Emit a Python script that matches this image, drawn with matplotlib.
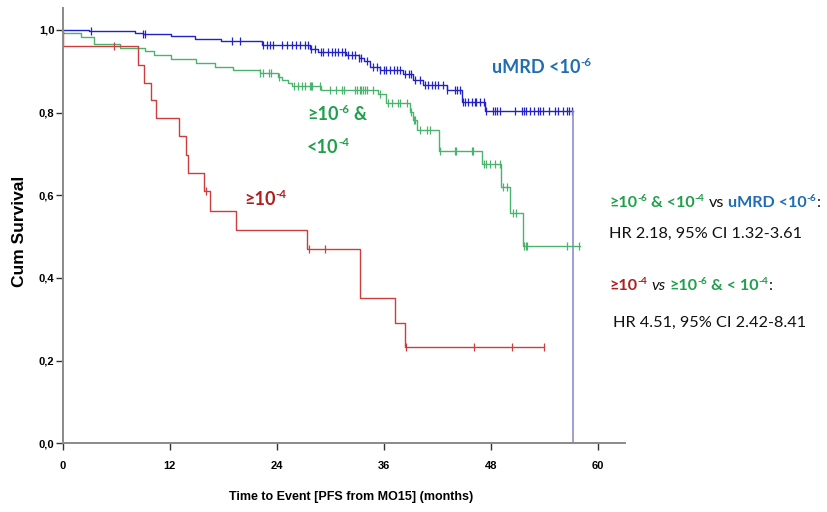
import numpy as np
import matplotlib
matplotlib.use("Agg")
import matplotlib.pyplot as plt

# Kaplan-Meier steps: (time in months, survival after the drop)
blue_times = [0, 2.9, 8.1, 9.0, 12.2, 14.8, 17.8, 22.3, 27.7, 28.6, 31.8, 33.2, 33.8,
              34.5, 35.6, 38.2, 39.3, 40.4, 43.1, 44.8, 47.4, 57.2]
blue_surv = [1.0, 0.997, 0.992, 0.989, 0.985, 0.977, 0.972, 0.963, 0.955, 0.946, 0.940,
             0.932, 0.924, 0.910, 0.902, 0.894, 0.879, 0.867, 0.855, 0.825, 0.805, 0.0]
blue_censor = [3.2, 9.0, 9.2, 19.0, 19.9, 22.5, 22.9, 23.2, 23.6, 24.6, 25.1, 25.7, 26.2,
               26.6, 27.2, 27.5, 27.9, 28.3, 29.0, 29.2, 29.8, 30.2, 30.5, 30.9, 31.3,
               31.7, 32.0, 32.4, 32.8, 33.2, 33.5, 34.1, 34.8, 35.2, 35.6, 36.0, 36.3,
               36.7, 37.1, 37.5, 37.8, 38.4, 38.8, 39.1, 39.5, 40.1, 40.6, 41.0, 41.4,
               41.8, 42.1, 42.7, 43.1, 44.0, 44.2, 44.6, 44.9, 45.1, 45.5, 45.9, 46.2,
               46.4, 46.8, 47.2, 47.5, 48.3, 48.5, 48.7, 49.0, 50.7, 51.5, 51.7, 52.0,
               52.4, 52.8, 53.3, 53.5, 53.9, 54.5, 55.2, 55.6, 56.1, 56.5, 56.8, 57.1]

green_times = [0, 0, 2.1, 3.5, 6.4, 9.2, 10.2, 12.2, 15.0, 17.1, 19.1, 22.1, 24.2, 24.6,
               25.3, 25.7, 29.0, 35.4, 36.3, 39.0, 39.3, 39.7, 42.2, 47.0, 49.1, 50.2, 51.6]
green_surv = [1.0, 0.992, 0.984, 0.965, 0.956, 0.948, 0.940, 0.929, 0.921, 0.911, 0.903,
              0.895, 0.887, 0.879, 0.871, 0.865, 0.855, 0.845, 0.823, 0.802, 0.781, 0.759,
              0.706, 0.675, 0.619, 0.558, 0.478]
green_end = 58.0
green_censor = [22.1, 22.5, 23.1, 23.4, 24.3, 25.9, 26.4, 26.8, 27.2, 27.7, 27.8, 28.0,
                28.9, 30.0, 30.7, 31.3, 31.5, 32.8, 33.0, 33.3, 33.5, 33.7, 33.9, 34.1,
                34.8, 35.6, 36.5, 36.9, 37.6, 37.8, 38.6, 39.1, 39.35, 39.5, 40.1, 40.8,
                41.2, 42.3, 44.0, 44.1, 45.9, 46.0, 47.2, 47.5, 47.9, 48.5, 49.0, 49.4,
                49.8, 50.5, 50.8, 51.7, 52.0, 52.1, 56.6, 57.9]

red_times = [0, 0, 8.45, 9.1, 9.9, 10.5, 13.0, 13.8, 14.1, 15.8, 16.5, 19.4, 27.4, 33.3,
             37.3, 38.4]
red_surv = [1.0, 0.96, 0.916, 0.872, 0.830, 0.786, 0.743, 0.697, 0.653, 0.610, 0.562,
            0.516, 0.469, 0.352, 0.291, 0.233]
red_end = 54.0
red_censor = [5.8, 16.1, 27.6, 29.4, 38.5, 46.1, 50.4, 54.0]

x_ticks = [0, 12, 24, 36, 48, 60]
y_ticks = [0.0, 0.2, 0.4, 0.6, 0.8, 1.0]
y_labels = ["0,0", "0,2", "0,4", "0,6", "0,8", "1,0"]

BLUE_LINE = "#2222cc"
GREEN_LINE = "#48b46c"
RED_LINE = "#cc3d3d"
BLUE_TXT = "#1f6db3"
GREEN_TXT = "#1fa04c"
RED_TXT = "#b01e1e"
BLACK = "#111111"

W, H = 828, 512
fig = plt.figure(figsize=(W / 100, H / 100), dpi=100)
ax = fig.add_axes([62.7 / W, (H - 443.3) / H, (625 - 62.7) / W, (443.3 - 8) / H])


def surv_at(times, surv, t):
    i = np.searchsorted(times, t, side="right") - 1
    return np.asarray(surv)[i]


def km(times, surv, end, color, censor):
    xs = list(times) + [end]
    ys = list(surv) + [surv[-1]]
    ax.step(xs, ys, where="post", color=color, lw=1.0)
    cy = [surv_at(times, surv, c) for c in censor]
    ax.plot(censor, cy, ls="none", marker="|", ms=6, mew=0.9, color=color)


# blue: last drop drawn separately (lighter in the picture)
km(blue_times[:-1], blue_surv[:-1], blue_times[-1], BLUE_LINE, blue_censor)
ax.plot([blue_times[-1], blue_times[-1]], [blue_surv[-2], blue_surv[-1]],
        color="#8e8ecc", lw=1.2)
km(green_times, green_surv, green_end, GREEN_LINE, green_censor)
km(red_times, red_surv, red_end, RED_LINE, red_censor)

ax.set_xlim(0, 63.06)
ax.set_ylim(0, 1.053)
for s in ["top", "right"]:
    ax.spines[s].set_visible(False)
for s in ["left", "bottom"]:
    ax.spines[s].set_color("#8a8a8a")
    ax.spines[s].set_linewidth(1.4)

ARIAL = ["Liberation Sans", "DejaVu Sans"]
tick_font = dict(family=ARIAL, weight="bold", size=8)
ax.set_xticks(x_ticks)
ax.set_xticklabels([str(v) for v in x_ticks], **tick_font)
ax.set_yticks(y_ticks)
ax.set_yticklabels(y_labels, **tick_font)
ax.tick_params(axis="x", length=5, width=1, color="#333333", pad=8)
ax.tick_params(axis="y", length=5, width=1, color="#333333", pad=1)

fig.text(351 / W, 1 - 500 / H, "Time to Event [PFS from MO15] (months)",
         family=ARIAL, weight="bold", size=9, ha="center", va="baseline")
fig.text(20 / W, 1 - 231 / H, "Cum Survival", rotation=90, ha="center", va="center",
         family=ARIAL, weight="bold", size=12.5)

FAM = ["Lato", "DejaVu Sans"]
renderer = fig.canvas.get_renderer()


def rich(x, y, parts, size):
    # parts: (text, color, weight, style, gap before in em, superscript?)
    for text, color, weight, style, gap, sup in parts:
        x += gap * size * 100 / 72
        fs = size * 0.64 if sup else size
        yy = y - (0.38 * size * 100 / 72 if sup else 0)
        t = fig.text(x / W, 1 - yy / H, text, color=color, weight=weight, style=style,
                     size=fs, family=FAM, ha="left", va="baseline")
        x += t.get_window_extent(renderer).width + (0.02 * size if sup else 0)


def g(text, sup=False, gap=0):
    return (text, GREEN_TXT, "bold", "normal", gap, sup)


def b(text, sup=False, gap=0):
    return (text, BLUE_TXT, "bold", "normal", gap, sup)


def r(text, sup=False, gap=0):
    return (text, RED_TXT, "bold", "normal", gap, sup)


GE = "\u2265"

# labels next to the curves
rich(492, 73, [b("uMRD <10"), b("-6", True)], 13)
rich(307, 120, [g(GE + "10"), g("-6", True), g("&", gap=0.22)], 13)
rich(307, 153, [g("<10"), g("-4", True)], 13)
rich(244, 205, [r(GE + "10"), r("-4", True)], 13)

# hazard ratio block
rich(609, 207, [g(GE + "10"), g("-6", True), g("& <10", gap=0.22), g("-4", True),
                ("vs", BLACK, "normal", "normal", 0.25, False),
                b("uMRD <10", gap=0.25), b("-6", True),
                (":", BLACK, "normal", "normal", 0, False)], 11.6)
rich(609, 238, [("HR 2.18, 95% CI 1.32-3.61", BLACK, "normal", "normal", 0, False)], 11.7)
rich(609, 290, [r(GE + "10"), r("-4", True),
                ("vs", BLACK, "normal", "italic", 0.25, False),
                g(GE + "10", gap=0.25), g("-6", True), g("& < 10", gap=0.22), g("-4", True),
                (":", BLACK, "normal", "normal", 0, False)], 11.6)
rich(613, 327, [("HR 4.51, 95% CI 2.42-8.41", BLACK, "normal", "normal", 0, False)], 11.7)

fig.savefig("out.png", dpi=100)
